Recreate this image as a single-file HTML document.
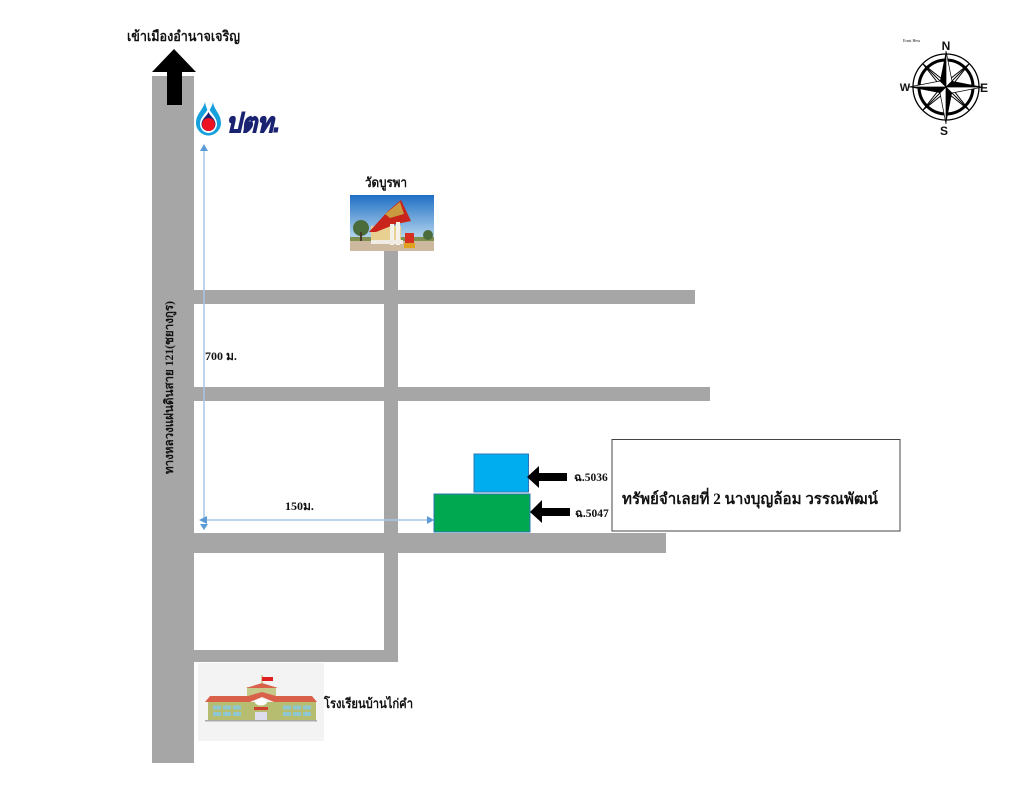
<!DOCTYPE html>
<html><head><meta charset="utf-8">
<style>
html,body{margin:0;padding:0;background:#fff}
svg{display:block}
text{font-family:"Liberation Serif","Noto Serif CJK SC","Noto Sans CJK JP",serif;font-weight:bold;fill:#111}
</style></head><body>
<svg width="1036" height="800" viewBox="0 0 1036 800" xmlns="http://www.w3.org/2000/svg">
<defs><linearGradient id="sky" x1="0" y1="0" x2="0" y2="1"><stop offset="0" stop-color="#1f6fc4"/><stop offset="0.7" stop-color="#a8cdea"/><stop offset="1" stop-color="#d8e8f2"/></linearGradient></defs>
<rect width="1036" height="800" fill="#fff"/>
<!-- roads -->
<g fill="#a6a6a6">
<rect x="152" y="76" width="42" height="687"/>
<rect x="194" y="290" width="501" height="14"/>
<rect x="194" y="387" width="516" height="14"/>
<rect x="194" y="533" width="472" height="20"/>
<rect x="384" y="250" width="14" height="412"/>
<rect x="194" y="650" width="204" height="12"/>
</g>
<!-- top arrow -->
<polygon points="174,49 196,72 182,72 182,105 167,105 167,72 152,72" fill="#000"/>
<text x="127" y="41" font-size="14" textLength="113" lengthAdjust="spacingAndGlyphs">เข้าเมืองอำนาจเจริญ</text>
<!-- PTT logo -->
<path d="M205,102 C206,108 208,110 208.500,113 C209,110 212,107 213,102 C214,110 221,114 221,123 C221,130 215,135.500 208.500,135.500 C202,135.500 196,130 196,123 C196,114 203,110 205,102Z" fill="#14a0dc"/>
<path d="M208.500,107 C210,113 217,117 217,124 C217,129 213,133 208.500,133 C204,133 200,129 200,124 C200,117 207,113 208.500,107Z" fill="#fff"/>
<path d="M208.500,112 C210,116 215.500,119 215.500,124 C215.500,128 212.500,131 208.500,131 C204.500,131 201.500,128 201.500,124 C201.500,119 207,116 208.500,112Z" fill="#1a2272"/>
<circle cx="208.500" cy="124.500" r="6.500" fill="#ee1122"/>
<text x="226" y="132" font-size="27" stroke="#1a2272" stroke-width="1.100" style="font-family:'Liberation Sans',sans-serif;font-style:italic;font-weight:bold;fill:#1a2272" textLength="54" lengthAdjust="spacingAndGlyphs">ปตท.</text>
<!-- measure lines -->
<g stroke="#a9c5e4" stroke-width="1.500" fill="none">
<line x1="204" y1="150" x2="204" y2="522"/>
<line x1="204" y1="520" x2="428" y2="520"/>
</g>
<g fill="#5b9bd5">
<polygon points="204,144 200,151 208,151"/>
<polygon points="199,520 207,516 207,524"/>
<polygon points="204,530 200,524 208,524"/>
<polygon points="434,520 427,516 427,524"/>
</g>
<text x="205" y="360" font-size="12">700 ม.</text>
<text x="285" y="510" font-size="12">150ม.</text>
<text transform="translate(173,474) rotate(-90)" font-size="12" textLength="173" lengthAdjust="spacingAndGlyphs">ทางหลวงแผ่นดินสาย 121(ชยางกูร)</text>
<!-- temple -->
<text x="365" y="187" font-size="13" textLength="42" lengthAdjust="spacingAndGlyphs">วัดบูรพา</text>
<rect x="350" y="195" width="84" height="56" fill="url(#sky)"/>
<rect x="350" y="241" width="84" height="10" fill="#cdb9a0"/>
<rect x="350" y="237" width="84" height="4" fill="#7f8f50"/>
<circle cx="361" cy="228" r="8" fill="#4a6b3a"/>
<rect x="360" y="232" width="2" height="9" fill="#4a3a2a"/>
<circle cx="428" cy="235" r="5" fill="#4a6b3a"/>
<rect x="371" y="226" width="30" height="17" fill="#e8d090"/>
<polygon points="369,232 388,211 401,200 411,221 396,224 376,232" fill="#c8241c"/>
<polygon points="385,214 400,202 404,214 390,218" fill="#c99a40"/>
<rect x="390" y="224" width="4" height="21" fill="#f4f0ea"/>
<rect x="396" y="222" width="4" height="23" fill="#f4f0ea"/>
<rect x="371" y="240" width="32" height="4" fill="#f0ece4"/>
<rect x="405" y="233" width="9" height="10" fill="#d83020"/>
<rect x="404" y="243" width="11" height="5" fill="#e0a020"/>
<!-- plots -->
<rect x="474" y="454" width="54.500" height="38" fill="#00aeef" stroke="#2e75b6" stroke-width="1"/>
<rect x="434" y="494" width="96" height="38" fill="#00a84f" stroke="#2e75b6" stroke-width="1"/>
<polygon points="527,477 539,466 539,473 567,473 567,481 539,481 539,488" fill="#000"/>
<polygon points="530,512 542,500 542,508 570,508 570,516 542,516 542,523" fill="#000"/>
<text x="574" y="481" font-size="11.500">ฉ.5036</text>
<text x="575" y="517" font-size="11.500">ฉ.5047</text>
<!-- info box -->
<rect x="612" y="439.500" width="288" height="91.500" fill="#fff" stroke="#444" stroke-width="1"/>
<text x="622" y="504" font-size="15.500" textLength="256" lengthAdjust="spacingAndGlyphs">ทรัพย์จำเลยที่ 2 นางบุญล้อม วรรณพัฒน์</text>
<!-- school -->
<rect x="198" y="663" width="126" height="78" fill="#f3f3f3"/>
<rect x="208" y="702" width="108" height="18" fill="#b6bd70"/>
<rect x="247" y="687" width="29" height="9" fill="#c5c98a"/>
<polygon points="246,688 262,683 278,688" fill="#d9614a"/>
<rect x="261.500" y="675" width="1" height="9" fill="#b6a040"/>
<rect x="262" y="677" width="11" height="4" fill="#e02020"/>
<polygon points="205,702 210,696 248,696 262,692 276,696 312,696 317,702 274,702 262,697 250,702" fill="#d9614a"/>
<ellipse cx="261" cy="702" rx="6" ry="3.500" fill="#fff"/>
<rect x="254" y="707" width="14" height="3" fill="#d04030"/>
<g fill="#8fc6cf">
<rect x="213" y="705.500" width="8" height="4"/><rect x="223" y="705.500" width="8" height="4"/><rect x="233" y="705.500" width="8" height="4"/>
<rect x="213" y="712" width="8" height="4"/><rect x="223" y="712" width="8" height="4"/><rect x="233" y="712" width="8" height="4"/>
<rect x="283" y="705.500" width="8" height="4"/><rect x="293" y="705.500" width="8" height="4"/><rect x="303" y="705.500" width="8" height="4"/>
<rect x="283" y="712" width="8" height="4"/><rect x="293" y="712" width="8" height="4"/><rect x="303" y="712" width="8" height="4"/>
</g>
<rect x="255" y="712" width="12" height="8" fill="#dde"/>
<rect x="205" y="720" width="112" height="1.500" fill="#aaa"/>
<text x="324" y="708" font-size="13" textLength="89" lengthAdjust="spacingAndGlyphs">โรงเรียนบ้านไก่คำ</text>
<!-- compass -->
<g transform="translate(946,87)">
<circle r="33" fill="none" stroke="#000" stroke-width="1.300"/>
<circle r="27" fill="none" stroke="#000" stroke-width="3"/>
<g stroke="#000" stroke-width="1">
<polygon points="-23,-23 -4,-8 -8,-4" fill="#fff"/>
<polygon points="23,-23 8,-4 4,-8" fill="#fff"/>
<polygon points="23,23 4,8 8,4" fill="#fff"/>
<polygon points="-23,23 -8,4 -4,8" fill="#fff"/>
<line x1="-23" y1="-23" x2="0" y2="0"/><line x1="23" y1="-23" x2="0" y2="0"/>
<line x1="23" y1="23" x2="0" y2="0"/><line x1="-23" y1="23" x2="0" y2="0"/>
</g>
<polygon points="0,-36 -6,-6 0,0" fill="#000"/>
<polygon points="0,-36 6,-6 0,0" fill="#fff" stroke="#000" stroke-width=".7"/>
<polygon points="37,0 6,-6 0,0" fill="#000"/>
<polygon points="37,0 6,6 0,0" fill="#fff" stroke="#000" stroke-width=".7"/>
<polygon points="0,37 6,6 0,0" fill="#000"/>
<polygon points="0,37 -6,6 0,0" fill="#fff" stroke="#000" stroke-width=".7"/>
<polygon points="-37,0 -6,6 0,0" fill="#000"/>
<polygon points="-37,0 -6,-6 0,0" fill="#fff" stroke="#000" stroke-width=".7"/>
</g>
<g style="font-family:'Liberation Sans',sans-serif">
<text x="946" y="50" font-size="12" text-anchor="middle" style="font-family:'Liberation Sans',sans-serif;font-weight:bold">N</text>
<text x="984" y="92" font-size="12" text-anchor="middle" style="font-family:'Liberation Sans',sans-serif;font-weight:bold">E</text>
<text x="944" y="135" font-size="12" text-anchor="middle" style="font-family:'Liberation Sans',sans-serif;font-weight:bold">S</text>
<text x="905" y="91" font-size="11" text-anchor="middle" style="font-family:'Liberation Sans',sans-serif;font-weight:bold">W</text>
</g>
<text x="903" y="42" font-size="4" style="font-weight:normal">Ernst Hess</text>
</svg>
</body></html>
